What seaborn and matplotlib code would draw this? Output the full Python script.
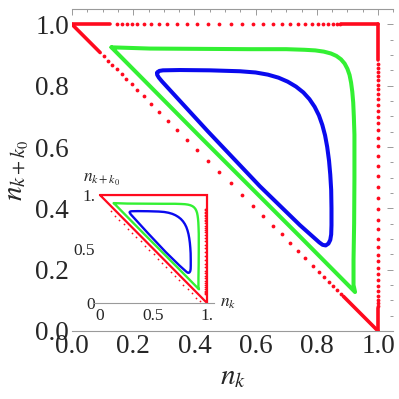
import matplotlib
matplotlib.use("Agg")
import matplotlib.pyplot as plt
import seaborn as sns
import pandas as pd
from matplotlib.ticker import FixedLocator, FixedFormatter, MultipleLocator

sns.set_style("white")
plt.rcParams['font.family'] = ['Liberation Serif', 'DejaVu Serif']
plt.rcParams['mathtext.fontset'] = 'stix'

# ---------------- data ----------------
# red trajectory: sparse dots along the three edges of the triangle
top_dot_x = [0.146, 0.162, 0.179, 0.196, 0.214, 0.234, 0.258, 0.283, 0.312, 0.343,
             0.376, 0.409, 0.445, 0.481, 0.519, 0.555, 0.591, 0.623, 0.656, 0.685,
             0.712, 0.738, 0.761, 0.783, 0.803, 0.821, 0.838, 0.852, 0.865, 0.877]
top_dot_y = [1.0] * 30

right_dot_y = [0.872, 0.859, 0.845, 0.832, 0.818, 0.803, 0.788, 0.772, 0.755, 0.737,
               0.717, 0.698, 0.677, 0.655, 0.630, 0.603, 0.572, 0.539, 0.505, 0.469,
               0.433, 0.397, 0.362, 0.331, 0.301, 0.274, 0.249, 0.227, 0.205, 0.186,
               0.166, 0.147, 0.130, 0.114, 0.101, 0.090, 0.080]
right_dot_x = [1.0] * 37

diag_dot_x = [0.103, 0.118, 0.132, 0.146, 0.162, 0.177, 0.195, 0.214, 0.235, 0.259,
              0.285, 0.315, 0.344, 0.377, 0.409, 0.445, 0.481, 0.519, 0.555, 0.591,
              0.624, 0.657, 0.685, 0.712, 0.738, 0.763, 0.788, 0.808, 0.825, 0.841,
              0.854, 0.867, 0.880]
diag_dot_y = [0.897, 0.882, 0.868, 0.854, 0.838, 0.823, 0.805, 0.786, 0.765, 0.741,
              0.715, 0.685, 0.656, 0.623, 0.591, 0.555, 0.519, 0.481, 0.445, 0.409,
              0.376, 0.343, 0.315, 0.288, 0.262, 0.237, 0.212, 0.192, 0.175, 0.159,
              0.146, 0.133, 0.120]

# dense (visually solid) parts of the red trajectory near the corners
dense_x = [[0.0, 0.124], [0.879, 1.0], [1.0, 1.0], [1.0, 1.0], [0.0, 0.092], [0.887, 1.0]]
dense_y = [[1.0, 1.0], [1.0, 1.0], [1.0, 0.883], [0.074, 0.0], [1.0, 0.908], [0.113, 0.0]]

# green closed orbit
green_x = [0.129, 0.255, 0.418, 0.582, 0.700, 0.760, 0.795, 0.823, 0.846, 0.864,
           0.879, 0.891, 0.900, 0.907, 0.912, 0.916, 0.919, 0.921, 0.923, 0.923,
           0.922, 0.920, 0.920, 0.925, 0.745, 0.418]
green_y = [0.925, 0.921, 0.920, 0.919, 0.919, 0.917, 0.915, 0.911, 0.905, 0.897,
           0.886, 0.872, 0.855, 0.835, 0.810, 0.780, 0.745, 0.700, 0.640, 0.500,
           0.350, 0.231, 0.150, 0.127, 0.308, 0.634]

# blue closed orbit
blue_x = [0.279, 0.285, 0.297, 0.353, 0.451, 0.549, 0.600, 0.640, 0.675, 0.705,
          0.732, 0.756, 0.776, 0.793, 0.807, 0.818, 0.827, 0.834, 0.840, 0.844,
          0.847, 0.848, 0.848, 0.847, 0.844, 0.838, 0.829, 0.819, 0.808, 0.745,
          0.614, 0.444, 0.294, 0.284, 0.278]
blue_y = [0.843, 0.848, 0.850, 0.851, 0.850, 0.847, 0.843, 0.836, 0.826, 0.813,
          0.797, 0.778, 0.756, 0.731, 0.703, 0.672, 0.638, 0.600, 0.555, 0.510,
          0.460, 0.400, 0.345, 0.315, 0.297, 0.285, 0.279, 0.281, 0.289, 0.345,
          0.472, 0.651, 0.814, 0.826, 0.836]

# inset: red outline and the dotted lap just outside the diagonal
inset_outline_x = [0.0, 1.0, 1.0, 0.0]
inset_outline_y = [1.0, 1.0, 0.0, 1.0]
inset_dot_x = [0.10, 0.14, 0.18, 0.22, 0.26, 0.30, 0.34, 0.38, 0.42, 0.46, 0.50,
               0.54, 0.58, 0.62, 0.66, 0.70, 0.74, 0.78, 0.82, 0.86, 0.90, 0.93]
inset_dot_y = [0.85, 0.81, 0.77, 0.73, 0.69, 0.65, 0.61, 0.57, 0.53, 0.49, 0.45,
               0.41, 0.37, 0.33, 0.29, 0.25, 0.21, 0.17, 0.13, 0.09, 0.05, 0.02]

main_ticks = [0.0, 0.2, 0.4, 0.6, 0.8, 1.0]
main_tick_labels = ["0.0", "0.2", "0.4", "0.6", "0.8", "1.0"]
inset_ticks = [0.0, 0.5, 1.0]
inset_tick_labels = ["0", "0.5", "1."]

RED = "#ff0a1e"
GREEN = "#33f033"
BLUE = "#0a0aee"
GRAY = "#9a9a9a"

# ---------------- figure ----------------
fig = plt.figure(figsize=(3.99, 3.99), dpi=100)
W = 399.0
ax = fig.add_axes([72 / W, 68 / W, 321.3 / W, 322 / W])


def closed(xs, ys):
    return pd.DataFrame({"x": xs + xs[:1], "y": ys + ys[:1]})


def draw_orbits(a, lw):
    g = closed(green_x, green_y)
    b = closed(blue_x, blue_y)
    sns.lineplot(data=g, x="x", y="y", sort=False, estimator=None, color=GREEN,
                 lw=lw, ax=a, solid_joinstyle="round")
    sns.lineplot(data=b, x="x", y="y", sort=False, estimator=None, color=BLUE,
                 lw=lw, ax=a, solid_joinstyle="round")


# red trajectory in main panel
for sx, sy in zip(dense_x, dense_y):
    sns.lineplot(x=sx, y=sy, sort=False, estimator=None, color=RED, lw=2.6,
                 ax=ax, solid_capstyle="round")
dots = pd.DataFrame({"x": top_dot_x + right_dot_x + diag_dot_x,
                     "y": top_dot_y + right_dot_y + diag_dot_y})
sns.scatterplot(data=dots, x="x", y="y", color=RED, s=7.5, linewidth=0, ax=ax,
                clip_on=False, zorder=3)
draw_orbits(ax, 2.9)

ax.set_xlim(0, 1.05)
ax.set_ylim(0, 1.05)
for axis in (ax.xaxis, ax.yaxis):
    axis.set_major_locator(FixedLocator(main_ticks))
    axis.set_major_formatter(FixedFormatter(main_tick_labels))
    axis.set_minor_locator(MultipleLocator(0.05))
ax.tick_params(which="both", direction="in", top=True, right=True, color=GRAY,
               width=0.7, labelsize=19.5, pad=2)
ax.tick_params(which="major", length=4)
ax.tick_params(which="minor", length=2)
for s in ("left", "right"):
    ax.spines[s].set_visible(False)
for s in ("top", "bottom"):
    ax.spines[s].set_color(GRAY)
    ax.spines[s].set_linewidth(0.8)
ax.set_xlabel("$n_k$", fontsize=21, labelpad=4)
ax.set_ylabel("$n_{k+k_0}$", fontsize=21, labelpad=3)

# ---------------- inset ----------------
ax_in = fig.add_axes([92.5 / W, (W - 308.4) / W, 122 / W, 122 / W])
ax_in.set_facecolor("none")
sns.lineplot(x=inset_outline_x, y=inset_outline_y, sort=False, estimator=None,
             color=RED, lw=1.6, ax=ax_in, solid_joinstyle="miter")
sns.scatterplot(x=inset_dot_x, y=inset_dot_y, color=RED, s=1.6, linewidth=0,
                ax=ax_in)
sns.scatterplot(x=[0.985] * len(right_dot_y), y=right_dot_y, color=RED, s=1.6,
                linewidth=0, ax=ax_in)
draw_orbits(ax_in, 1.7)
ax_in.set_xlim(-0.07, 1.07)
ax_in.set_ylim(-0.05, 1.08)
ax_in.set_xlabel("")
ax_in.set_ylabel("")
for axis in (ax_in.xaxis, ax_in.yaxis):
    axis.set_major_locator(FixedLocator(inset_ticks))
    axis.set_major_formatter(FixedFormatter(inset_tick_labels))
ax_in.tick_params(which="both", direction="out", length=2, color=GRAY,
                  labelsize=12.5, pad=1.5)
ax_in.spines["bottom"].set_position(("data", 0))
ax_in.spines["left"].set_position(("data", 0))
ax_in.spines["bottom"].set_color(GRAY)
ax_in.spines["bottom"].set_linewidth(0.8)
for s in ("left", "top", "right"):
    ax_in.spines[s].set_visible(False)
ax_in.text(1.12, 0.0, "$n_k$", fontsize=12.5, ha="left", va="center",
           transform=ax_in.transData)
ax_in.text(0.02, 1.14, "$n_{k+k_0}$", fontsize=12.5, ha="center", va="center",
           transform=ax_in.transData)

fig.savefig("out.png", dpi=100)
